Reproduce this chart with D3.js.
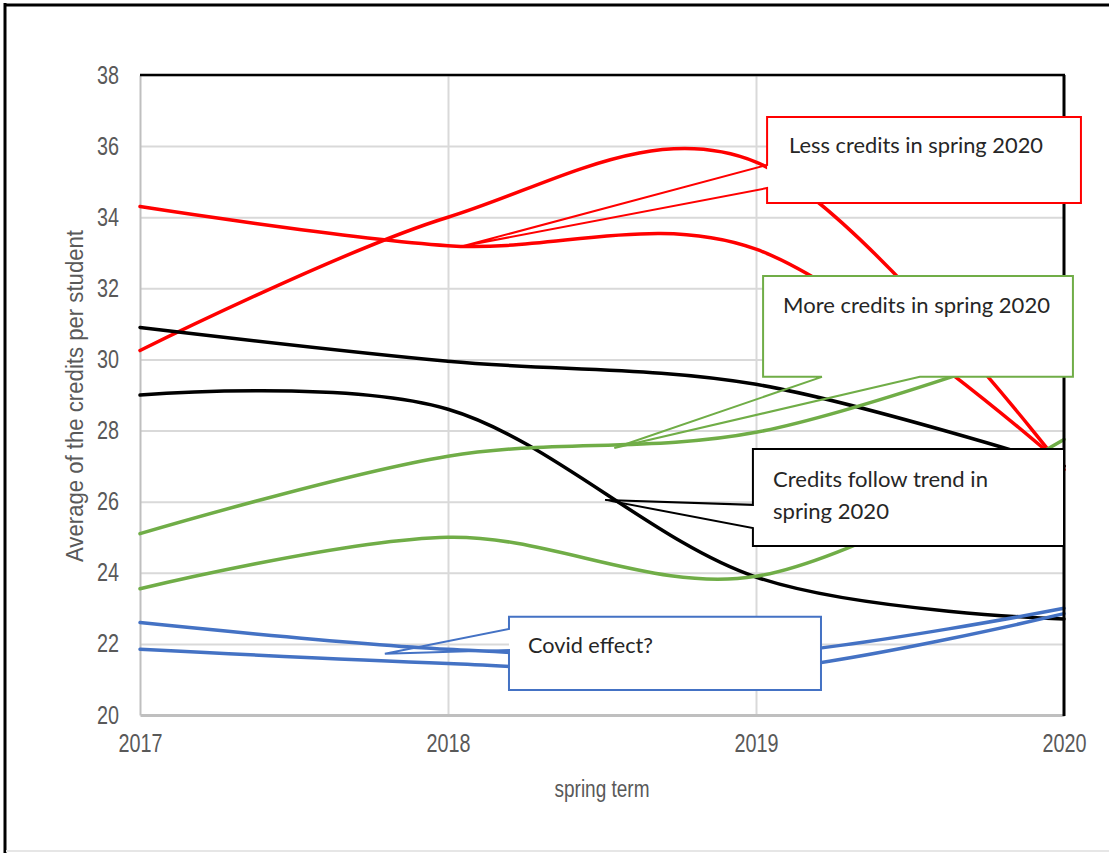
<!DOCTYPE html>
<html><head><meta charset="utf-8">
<script src="https://cdn.jsdelivr.net/npm/d3@7"></script>
<style>body{margin:0;background:#fff;} svg{display:block}</style>
</head><body><svg id="c" width="1109" height="853"></svg>
<script>
// ---- data ----
const years = [2017, 2018, 2019, 2020];
const yTicks = [20, 22, 24, 26, 28, 30, 32, 34, 36, 38];
const red1 = [30.25, 34.0, 35.55, 26.9];
const red2 = [34.3, 33.2, 33.1, 27.0];
const black1 = [30.9, 29.95, 29.3, 27.0];
const black2 = [29.0, 28.6, 23.88, 22.7];
const green1 = [25.1, 27.28, 27.95, 30.6];
const green2 = [23.55, 25.0, 23.9, 27.75];
const blue1 = [22.6, 21.85, 21.7, 23.0];
const blue2 = [21.85, 21.45, 21.25, 22.85];
const yTitle = "Average of the credits per student";
const xTitle = "spring term";

const series = [
  {v: red1, c: "#ff0000"}, {v: red2, c: "#ff0000"},
  {v: black1, c: "#000000"}, {v: black2, c: "#000000"},
  {v: green1, c: "#70ad47"}, {v: green2, c: "#70ad47"},
  {v: blue1, c: "#4472c4"}, {v: blue2, c: "#4472c4"}
];

// callouts in data coordinates
const callouts = [
  {lines: ["Less credits in spring 2020"], c: "#ff0000", box: [2019.036, 36.82, 2020.055, 34.40],
   side: "left", base: [35.47, 34.82], tip: [2018.05, 33.19], tx: 789, ty: [153], tl: [254]},
  {lines: ["More credits in spring 2020"], c: "#70ad47", box: [2019.023, 32.35, 2020.029, 29.51],
   side: "bottom", base: [2019.214, 2019.532], tip: [2018.54, 27.51], tx: 783, ty: [313], tl: [267]},
  {lines: ["Credits follow trend in", "spring 2020"], c: "#000000", box: [2018.99, 27.48, 2020.0, 24.75],
   side: "left", base: [25.91, 25.26], tip: [2018.51, 26.05], tx: 773, ty: [487, 519], tl: [215, 116]},
  {lines: ["Covid effect?"], c: "#4472c4", box: [2018.198, 22.76, 2019.211, 20.70],
   side: "left", base: [22.42, 21.83], tip: [2017.795, 21.72], tx: 528, ty: [653], tl: [125]}
];

// ---- layout ----
const svg = d3.select("#c");
const L = 140, R = 1064, T = 75, B = 715;
const x = d3.scaleLinear().domain([2017, 2020]).range([L, R]);
const y = d3.scaleLinear().domain([20, 38]).range([B, T]);
const axisFont = "'Liberation Sans Narrow','Liberation Sans',Arial,sans-serif";

// outer frame
svg.append("line").attr("x1", 5).attr("y1", 3).attr("x2", 5).attr("y2", 853).attr("stroke", "#000").attr("stroke-width", 3);
svg.append("line").attr("x1", 4).attr("y1", 5).attr("x2", 1109).attr("y2", 5).attr("stroke", "#000").attr("stroke-width", 3);
svg.append("line").attr("x1", 6).attr("y1", 851).attr("x2", 1109).attr("y2", 851).attr("stroke", "#e6e6e6").attr("stroke-width", 2);

// gridlines
const gy = svg.append("g").attr("transform", `translate(${L},0)`)
  .call(d3.axisLeft(y).tickValues(yTicks.slice(1)).tickSize(-(R - L)).tickFormat(""));
gy.select(".domain").remove();
gy.selectAll("line").attr("stroke", "#d9d9d9").attr("stroke-width", 2);
const gx = svg.append("g").attr("transform", `translate(0,${B})`)
  .call(d3.axisBottom(x).tickValues([2018, 2019]).tickSize(-(B - T)).tickFormat(""));
gx.select(".domain").remove();
gx.selectAll("line").attr("stroke", "#d9d9d9").attr("stroke-width", 2);

// axes
const ay = svg.append("g").attr("transform", `translate(${L},0)`)
  .call(d3.axisLeft(y).tickValues(yTicks).tickSize(0).tickPadding(21).tickFormat(d3.format("d")));
ay.select(".domain").attr("stroke", "#bfbfbf").attr("stroke-width", 2);
ay.selectAll("text").attr("fill", "#595959").attr("font-family", axisFont)
  .attr("font-size", 25).attr("textLength", 22).attr("lengthAdjust", "spacingAndGlyphs");

const ax = svg.append("g").attr("transform", `translate(0,${B})`)
  .call(d3.axisBottom(x).tickValues(years).tickSize(0).tickPadding(19).tickFormat(d3.format("d")));
ax.select(".domain").attr("stroke", "#bfbfbf").attr("stroke-width", 3);
ax.selectAll("text").attr("fill", "#595959").attr("font-family", axisFont)
  .attr("font-size", 25).attr("textLength", 44).attr("lengthAdjust", "spacingAndGlyphs");

// axis titles
svg.append("text").attr("transform", `translate(83,396) rotate(-90)`)
  .attr("text-anchor", "middle").attr("fill", "#595959")
  .attr("font-family", axisFont).attr("font-size", 23)
  .attr("textLength", 332).attr("lengthAdjust", "spacingAndGlyphs").text(yTitle);
svg.append("text").attr("x", (L + R) / 2).attr("y", 797)
  .attr("text-anchor", "middle").attr("fill", "#595959")
  .attr("font-family", axisFont).attr("font-size", 23)
  .attr("textLength", 95).attr("lengthAdjust", "spacingAndGlyphs").text(xTitle);

// series
const line = d3.line().x((d, i) => x(years[i])).y(d => y(d)).curve(d3.curveCatmullRom.alpha(0));
svg.append("g").selectAll("path").data(series).join("path")
  .attr("d", s => line(s.v)).attr("fill", "none").attr("stroke", s => s.c)
  .attr("stroke-width", 3.5).attr("stroke-linecap", "round").attr("stroke-linejoin", "round");

// plot border top/right
svg.append("line").attr("x1", L).attr("y1", T).attr("x2", R + 1).attr("y2", T).attr("stroke", "#000").attr("stroke-width", 2.5);
svg.append("line").attr("x1", R).attr("y1", T).attr("x2", R).attr("y2", B + 1).attr("stroke", "#000").attr("stroke-width", 3);

// callouts
callouts.forEach(co => {
  const [bx0, by0, bx1, by1] = co.box;
  const X0 = x(bx0), Y0 = y(by0), X1 = x(bx1), Y1 = y(by1);
  const tx = x(co.tip[0]), ty = y(co.tip[1]);
  svg.append("rect").attr("x", X0).attr("y", Y0).attr("width", X1 - X0).attr("height", Y1 - Y0).attr("fill", "#fff");
  const p = d3.path();
  if (co.side === "left") {
    p.moveTo(X0, Y0); p.lineTo(X1, Y0); p.lineTo(X1, Y1); p.lineTo(X0, Y1);
    p.lineTo(X0, y(co.base[1])); p.lineTo(tx, ty); p.lineTo(X0, y(co.base[0])); p.closePath();
  } else {
    p.moveTo(X0, Y0); p.lineTo(X1, Y0); p.lineTo(X1, Y1);
    p.lineTo(x(co.base[1]), Y1); p.lineTo(tx, ty); p.lineTo(x(co.base[0]), Y1); p.lineTo(X0, Y1); p.closePath();
  }
  svg.append("path").attr("d", p.toString()).attr("fill", "none").attr("stroke", co.c)
    .attr("stroke-width", 2).attr("stroke-linejoin", "miter");
  co.lines.forEach((t, i) => {
    svg.append("text").attr("x", co.tx).attr("y", co.ty[i]).attr("fill", "#262626")
      .attr("font-family", "Lato,'Open Sans',sans-serif").attr("font-size", 22)
      .attr("textLength", co.tl[i]).attr("lengthAdjust", "spacingAndGlyphs").text(t);
  });
});
</script></body></html>
